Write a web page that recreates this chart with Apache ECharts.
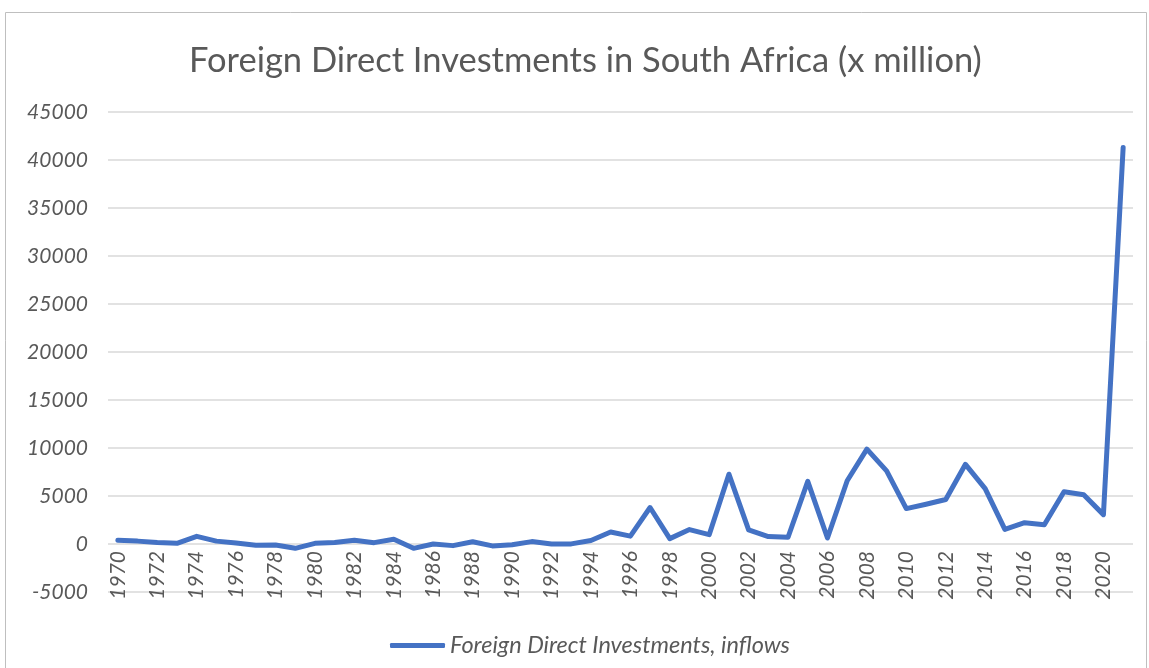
<!DOCTYPE html>
<html lang="en" style="height: 100%">
<head>
  <meta charset="utf-8">
</head>
<body style="height: 100%; margin: 0; background: #fff">
  <div id="container" style="width: 1149px; height: 668px"></div>
  <script type="text/javascript" src="https://cdn.jsdelivr.net/npm/echarts@6/dist/echarts.min.js"></script>
  <script type="text/javascript">
    // years on the x axis
    var years = [];
    for (var y = 1970; y <= 2021; y++) years.push(String(y));

    // FDI inflows, million US$
    var fdiInflows = [
      400, 300, 150, 70, 800, 300, 100, -130, -100, -450,
      70, 150, 400, 140, 490, -450, 0, -170, 240, -200,
      -80, 250, 0, 10, 370, 1250, 820, 3800, 560, 1500,
      970, 7270, 1480, 780, 700, 6520, 620, 6590, 9890, 7620,
      3690, 4140, 4630, 8300, 5770, 1520, 2220, 2010, 5450, 5130,
      3060, 41300
    ];

    var seriesName = 'Foreign Direct Investments, inflows';
    var textColor = '#595959';
    var fontName = 'Lato';

    var dom = document.getElementById('container');
    var myChart = echarts.init(dom, null, { renderer: 'canvas' });

    var option = {
      backgroundColor: '#fff',
      animation: false,
      graphic: [{
        type: 'rect',
        shape: { x: 5.5, y: 12.5, width: 1141, height: 680 },
        style: { fill: 'none', stroke: '#bfbfbf', lineWidth: 1 }
      }],
      title: {
        text: 'Foreign Direct Investments in South Africa (x million)',
        left: 184,
        top: 38,
        textStyle: { color: textColor, fontFamily: fontName, fontWeight: 'normal', fontSize: 34.5 }
      },
      legend: {
        bottom: 6,
        left: 385,
        itemWidth: 55,
        itemHeight: 5,
        itemGap: 4,
        icon: 'roundRect',
        data: [seriesName],
        textStyle: { color: textColor, fontFamily: fontName, fontStyle: 'italic', fontSize: 23.5 }
      },
      grid: { left: 108, right: 16, top: 112, bottom: 76 },
      xAxis: {
        type: 'category',
        data: years,
        boundaryGap: true,
        axisLine: { show: false, onZero: false },
        axisTick: { show: false },
        axisLabel: {
          interval: 1,
          rotate: 90,
          margin: -41,
          color: textColor,
          fontFamily: fontName,
          fontStyle: 'italic',
          fontSize: 21
        }
      },
      yAxis: {
        type: 'value',
        min: -5000,
        max: 45000,
        interval: 5000,
        axisLine: { show: false },
        axisTick: { show: false },
        splitLine: { lineStyle: { color: '#d9d9d9', width: 1.5 } },
        axisLabel: {
          margin: 20,
          color: textColor,
          fontFamily: fontName,
          fontStyle: 'italic',
          fontSize: 21,
          formatter: function (v) { return String(v); }
        }
      },
      series: [{
        name: seriesName,
        type: 'line',
        data: fdiInflows,
        symbol: 'none',
        lineStyle: { color: '#4472c4', width: 5, cap: 'round', join: 'round' },
        itemStyle: { color: '#4472c4' }
      }]
    };

    myChart.setOption(option);
    window.addEventListener('resize', myChart.resize);
  </script>
</body>
</html>
